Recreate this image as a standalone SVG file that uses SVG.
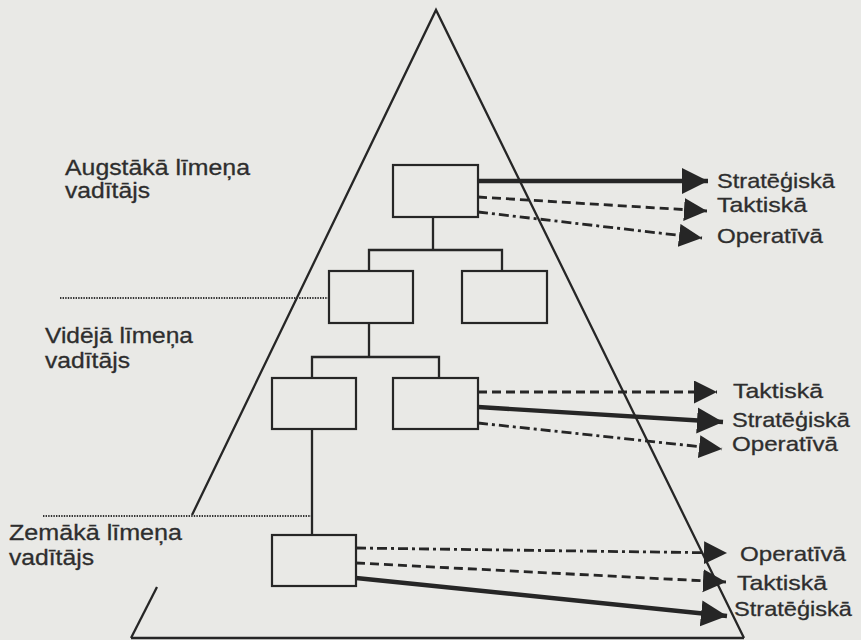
<svg xmlns="http://www.w3.org/2000/svg" width="861" height="640" viewBox="0 0 861 640">
  <defs>
    <style>
      .ink { stroke: #262626; fill: none; }
      .edge { stroke-width: 2.3; }
      .box { stroke: #262626; stroke-width: 2.2; fill: none; }
      .level { stroke: #333; stroke-width: 1.8; stroke-dasharray: 1.4 1.2; fill: none; }
      .strat { stroke: #262626; stroke-width: 4.4; fill: none; marker-end: url(#headBig); }
      .takt { stroke: #262626; stroke-width: 2.8; stroke-dasharray: 9 5; fill: none; marker-end: url(#headSmall); }
      .oper { stroke: #262626; stroke-width: 2.8; stroke-dasharray: 10 4 3 4; fill: none; marker-end: url(#headSmall); }
      .lbl { font-family: "Liberation Sans", Arial, Helvetica, sans-serif; fill: #2e2e2e; stroke: #2e2e2e; stroke-width: 0.3; }
      .side { font-size: 22px; }
      .kind { font-size: 21px; }
    </style>
    <marker id="headBig" markerUnits="userSpaceOnUse" markerWidth="28" markerHeight="28" refX="26" refY="13" orient="auto" viewBox="0 0 28 28">
      <path d="M0,0 L26,13 L0,26 Z" fill="#262626"/>
    </marker>
    <marker id="headSmall" markerUnits="userSpaceOnUse" markerWidth="25" markerHeight="25" refX="23" refY="11.5" orient="auto" viewBox="0 0 25 25">
      <path d="M0,0 L23,11.5 L0,23 Z" fill="#262626"/>
    </marker>
  </defs>

  <!-- paper -->
  <rect x="0" y="0" width="861" height="640" fill="#e9e9e6"/>

  <!-- pyramid outline -->
  <g id="pyramid" class="ink edge">
    <polyline points="192,515 436,10 744,638"/>
    <line x1="157" y1="587" x2="131" y2="638"/>
    <line x1="131" y1="638" x2="744" y2="638"/>
  </g>

  <!-- level separators -->
  <g id="levels">
    <line class="level" x1="60" y1="298" x2="329" y2="298"/>
    <line class="level" x1="43" y1="516" x2="311" y2="516"/>
  </g>

  <!-- level captions -->
  <g id="label-top" class="lbl side">
    <text x="65" y="175" textLength="185" lengthAdjust="spacingAndGlyphs">Augstākā līmeņa</text>
    <text x="65" y="198" textLength="85" lengthAdjust="spacingAndGlyphs">vadītājs</text>
  </g>
  <g id="label-middle" class="lbl side">
    <text x="45" y="343" textLength="148" lengthAdjust="spacingAndGlyphs">Vidējā līmeņa</text>
    <text x="45" y="368" textLength="85" lengthAdjust="spacingAndGlyphs">vadītājs</text>
  </g>
  <g id="label-bottom" class="lbl side">
    <text x="9" y="540" textLength="173" lengthAdjust="spacingAndGlyphs">Zemākā līmeņa</text>
    <text x="9" y="565" textLength="85" lengthAdjust="spacingAndGlyphs">vadītājs</text>
  </g>

  <!-- organisation chart boxes -->
  <g id="box-top"><rect class="box" x="393" y="165" width="85" height="52"/></g>
  <g id="box-mid-left"><rect class="box" x="329" y="271" width="84" height="52"/></g>
  <g id="box-mid-right"><rect class="box" x="462" y="271" width="85" height="52"/></g>
  <g id="box-low-left"><rect class="box" x="272" y="378" width="84" height="51"/></g>
  <g id="box-low-right"><rect class="box" x="393" y="378" width="85" height="51"/></g>
  <g id="box-bottom"><rect class="box" x="272" y="535" width="84" height="51"/></g>

  <!-- connectors -->
  <g id="connectors">
    <!-- hierarchy links -->
    <g class="ink edge">
      <polyline points="433,217 433,250"/>
      <polyline points="369,271 369,250 502,250 502,271"/>
      <polyline points="369,323 369,357"/>
      <polyline points="312,378 312,357 439,357 439,378"/>
      <polyline points="312,429 312,535"/>
    </g>
    <!-- top manager decisions -->
    <line class="strat" x1="478" y1="181" x2="708" y2="181"/>
    <line class="takt" x1="478" y1="197" x2="707" y2="211"/>
    <line class="oper" x1="478" y1="212" x2="702" y2="238"/>
    <!-- middle manager decisions -->
    <line class="takt" x1="478" y1="392" x2="717" y2="392"/>
    <line class="strat" x1="478" y1="407" x2="723" y2="422"/>
    <line class="oper" x1="478" y1="423" x2="722" y2="449"/>
    <!-- lower manager decisions -->
    <line class="oper" x1="356" y1="548" x2="727" y2="553"/>
    <line class="takt" x1="356" y1="563" x2="726" y2="582"/>
    <line class="strat" x1="356" y1="578" x2="727" y2="616"/>
  </g>

  <!-- decision types -->
  <g id="kinds-top" class="lbl kind">
    <text x="717" y="188" textLength="118" lengthAdjust="spacingAndGlyphs">Stratēģiskā</text>
    <text x="717" y="212" textLength="90" lengthAdjust="spacingAndGlyphs">Taktiskā</text>
    <text x="717" y="243" textLength="106" lengthAdjust="spacingAndGlyphs">Operatīvā</text>
  </g>
  <g id="kinds-middle" class="lbl kind">
    <text x="733" y="398" textLength="90" lengthAdjust="spacingAndGlyphs">Taktiskā</text>
    <text x="732" y="427" textLength="118" lengthAdjust="spacingAndGlyphs">Stratēģiskā</text>
    <text x="732" y="451" textLength="106" lengthAdjust="spacingAndGlyphs">Operatīvā</text>
  </g>
  <g id="kinds-bottom" class="lbl kind">
    <text x="740" y="561" textLength="106" lengthAdjust="spacingAndGlyphs">Operatīvā</text>
    <text x="737" y="590" textLength="90" lengthAdjust="spacingAndGlyphs">Taktiskā</text>
    <text x="734" y="616" textLength="118" lengthAdjust="spacingAndGlyphs">Stratēģiskā</text>
  </g>
</svg>
